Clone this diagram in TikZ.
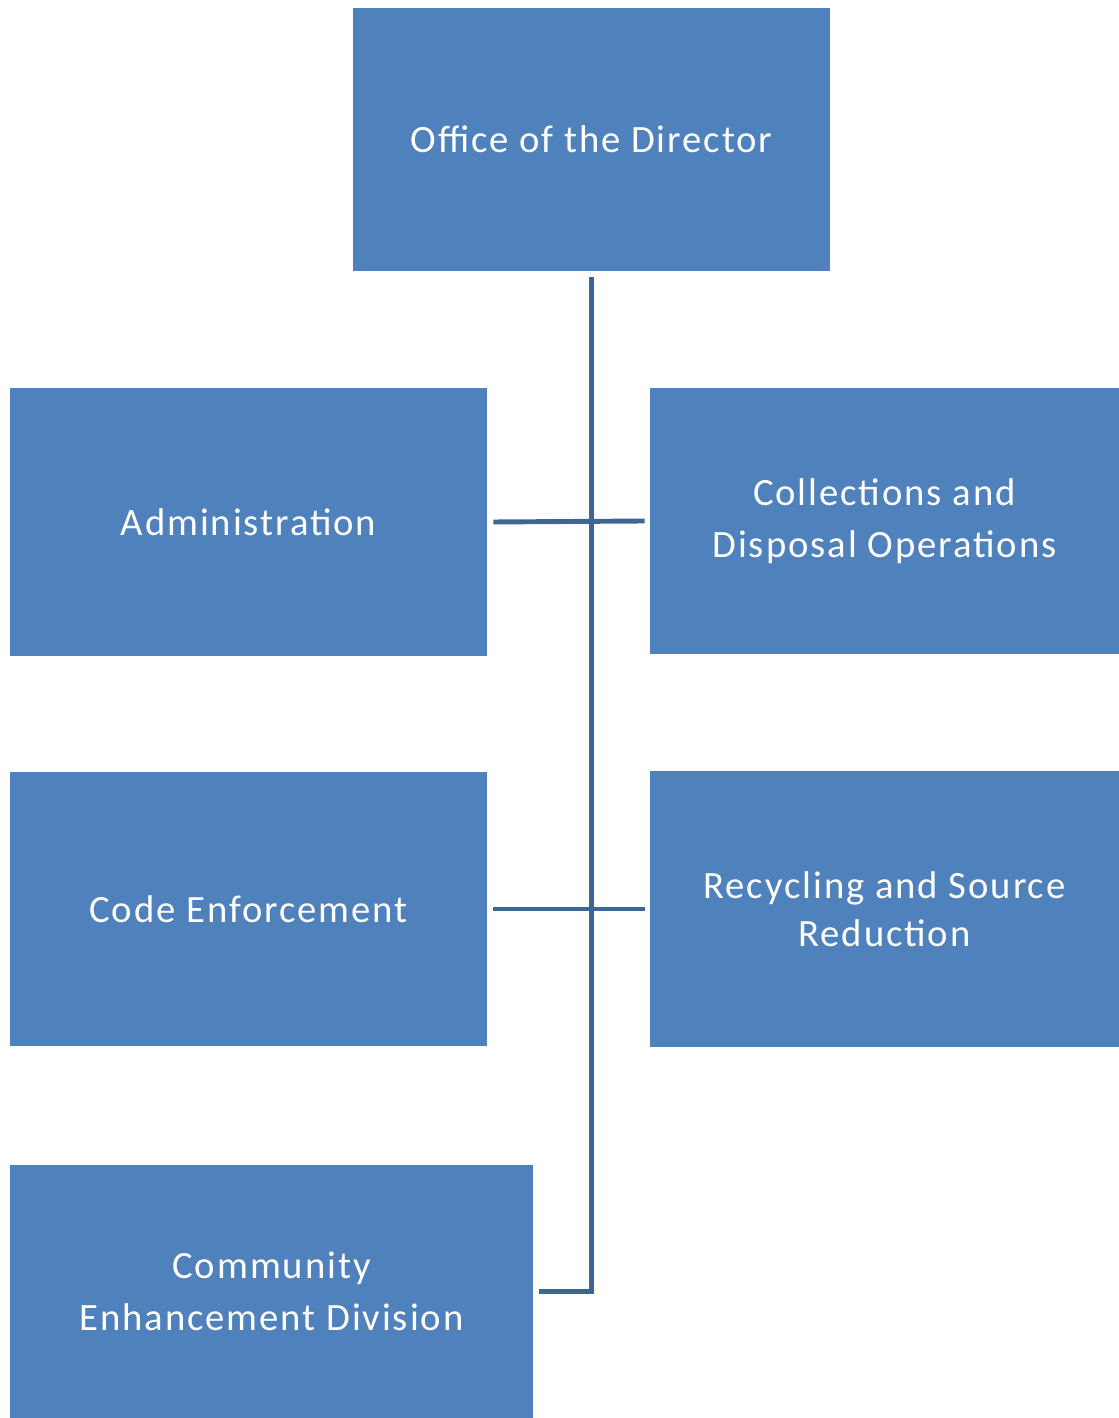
\documentclass[tikz,border=0pt]{standalone}
\usepackage{fontspec}
\setmainfont{Carlito}[LetterSpace=5]
\usetikzlibrary{positioning}
\definecolor{boxblue}{HTML}{4F81BD}
\definecolor{linkblue}{HTML}{3F6595}

\tikzset{
  unit/.style={fill=boxblue,draw=none,text=white,align=center,inner sep=0pt,
    font=\fontsize{22}{29.5}\selectfont},
  link/.style={linkblue,line width=2.8pt}
}

\begin{document}
\begin{tikzpicture}[x=1cm,y=1cm]

% Canvas
\useasboundingbox (0,0) rectangle (22.38,28.36);

% ===== TOP =====
\node[unit,minimum width=9.54cm,minimum height=5.26cm] (dir) at (11.83,25.57)
  {Office of the Director};

% ===== LEFT COLUMN =====
\node[unit,minimum width=9.54cm,minimum height=5.36cm] (adm) at (4.97,17.92)
  {Administration};
\node[unit,minimum width=9.54cm,minimum height=5.48cm] (code) at (4.97,10.18)
  {Code Enforcement};
\node[unit,minimum width=10.46cm,minimum height=5.06cm] (comm) at (5.43,2.53)
  {Community\\Enhancement Division};

% ===== RIGHT COLUMN =====
\node[unit,minimum width=9.38cm,minimum height=5.32cm] (coll) at (17.69,17.94)
  {Collections and\\Disposal Operations};
\node[unit,minimum width=9.38cm,minimum height=5.52cm,
  font=\fontsize{22}{27}\selectfont] (recy) at (17.69,10.18)
  {Recycling and Source\\Reduction};

% ===== CONNECTORS =====
\coordinate (spine) at ([xshift=0.12cm]comm.east);
\draw[link] ([yshift=-0.12cm]dir.south) |- (spine);
\draw[link] ([xshift=0.12cm]adm.east) -- ([xshift=-0.1cm]coll.west);
\draw[link] ([xshift=0.12cm]code.east) -- ([xshift=-0.1cm]recy.west);

\end{tikzpicture}
\end{document}
